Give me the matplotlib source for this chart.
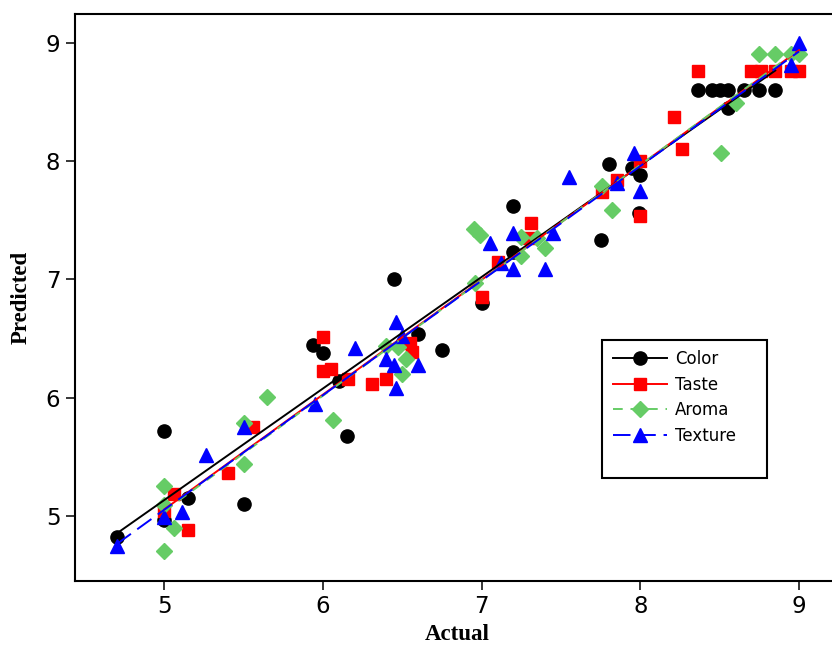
import numpy as np
import matplotlib
matplotlib.use('Agg')
import matplotlib.pyplot as plt
from matplotlib.lines import Line2D
from matplotlib.patches import Rectangle

# Actual vs predicted scores for each attribute
color_x = [4.7, 5.0, 5.0, 5.15, 5.5, 5.94, 6.0, 6.1, 6.15, 6.45, 6.6, 6.75, 7.0, 7.2, 7.2,
           7.75, 7.8, 7.95, 8.0, 7.99, 8.36, 8.45, 8.5, 8.55, 8.55, 8.65, 8.75, 8.85]
color_y = [4.82, 4.97, 5.72, 5.15, 5.10, 6.45, 6.38, 6.14, 5.68, 7.0, 6.54, 6.40, 6.80, 7.62, 7.23,
           7.33, 7.98, 7.94, 7.88, 7.56, 8.6, 8.6, 8.6, 8.6, 8.45, 8.6, 8.6, 8.6]

taste_x = [5.0, 5.06, 5.15, 5.4, 5.56, 6.0, 6.0, 6.05, 6.16, 6.31, 6.4, 6.55, 6.56, 7.0, 7.1,
           7.31, 7.3, 7.76, 7.85, 8.0, 8.0, 8.21, 8.26, 8.36, 8.7, 8.76, 8.85, 8.95, 9.0]
taste_y = [5.04, 5.19, 4.88, 5.36, 5.75, 6.51, 6.23, 6.24, 6.16, 6.12, 6.16, 6.46, 6.39, 6.85, 7.15,
           7.48, 7.35, 7.74, 7.84, 8.0, 7.54, 8.37, 8.1, 8.76, 8.76, 8.76, 8.76, 8.76, 8.76]

aroma_x = [5.0, 5.0, 5.0, 5.06, 5.5, 5.5, 5.65, 6.06, 6.4, 6.47, 6.52, 6.5, 6.96, 6.95, 6.99,
           7.25, 7.25, 7.35, 7.4, 7.76, 7.82, 8.51, 8.6, 8.75, 8.85, 8.95, 9.0]
aroma_y = [4.70, 5.09, 5.25, 4.90, 5.44, 5.79, 6.01, 5.81, 6.44, 6.43, 6.33, 6.2, 6.97, 7.43, 7.38,
           7.36, 7.2, 7.35, 7.27, 7.79, 7.59, 8.07, 8.49, 8.91, 8.91, 8.91, 8.91]

texture_x = [4.7, 5.0, 5.11, 5.26, 5.5, 5.95, 6.2, 6.4, 6.45, 6.46, 6.5, 6.6, 6.46, 7.05, 7.12,
             7.2, 7.2, 7.4, 7.45, 7.55, 7.85, 7.96, 8.0, 8.95, 9.0]
texture_y = [4.75, 4.99, 5.03, 5.52, 5.75, 5.95, 6.42, 6.33, 6.28, 6.64, 6.52, 6.28, 6.08, 7.31, 7.14,
             7.39, 7.09, 7.09, 7.39, 7.87, 7.82, 8.07, 7.75, 8.81, 9.0]

series = [
    ('Color', color_x, color_y, 'black', 'o', 9.5, '-'),
    ('Taste', taste_x, taste_y, '#ff0000', 's', 8.5, '-'),
    ('Aroma', aroma_x, aroma_y, '#66cc66', 'D', 8.0, (0, (5, 4))),
    ('Texture', texture_x, texture_y, '#0000ff', '^', 10.0, (0, (9, 4))),
]

fig = plt.figure(figsize=(8.32, 6.47), dpi=100)
ax = fig.add_axes([75 / 832, 1 - 580.7 / 647, 1 - 75 / 832 + 0.01, (580.7 - 14) / 647])

handles = []
for name, xs, ys, col, mk, ms, ls in series:
    xs = np.array(xs)
    ys = np.array(ys)
    ax.plot(xs, ys, linestyle='none', marker=mk, markersize=ms, color=col, zorder=3)
    # least squares fit line over the range of each series
    k, b = np.polyfit(xs, ys, 1)
    xl = np.array([xs.min(), xs.max()])
    ax.plot(xl, k * xl + b, linestyle=ls, color=col, linewidth=1.4, zorder=4)
    handles.append(Line2D([], [], color=col, linestyle=ls, linewidth=1.4,
                          marker=mk, markersize=ms, label=name))

ax.set_xlim(4.437, 9.26)
ax.set_ylim(4.453, 9.245)
ax.set_xticks([5, 6, 7, 8, 9])
ax.set_yticks([5, 6, 7, 8, 9])
ax.spines['right'].set_visible(False)
for s in ['left', 'bottom', 'top']:
    ax.spines[s].set_linewidth(1.5)
ax.tick_params(direction='out', length=6.5, width=1.1, labelsize=16.5, pad=4)

ax.set_xlabel('Actual', family='Liberation Serif', fontweight='bold', fontsize=16.5, labelpad=4)
ax.set_ylabel('Predicted', family='Liberation Serif', fontweight='bold', fontsize=16.5, labelpad=10)

# legend box (taller than its entries, as in the original)
box = Rectangle((602 / 832, 1 - 478 / 647), 165 / 832, 138 / 647, transform=fig.transFigure,
                facecolor='white', edgecolor='black', linewidth=1.5, zorder=5)
fig.patches.append(box)
leg = fig.legend(handles=handles, loc='upper left', bbox_to_anchor=(600 / 832, 1 - 337 / 647),
                 fontsize=12, frameon=False, handlelength=3.2,
                 labelspacing=0.45, borderpad=0.3, handletextpad=0.5)
leg.set_zorder(6)

fig.savefig('out.png', dpi=100)
